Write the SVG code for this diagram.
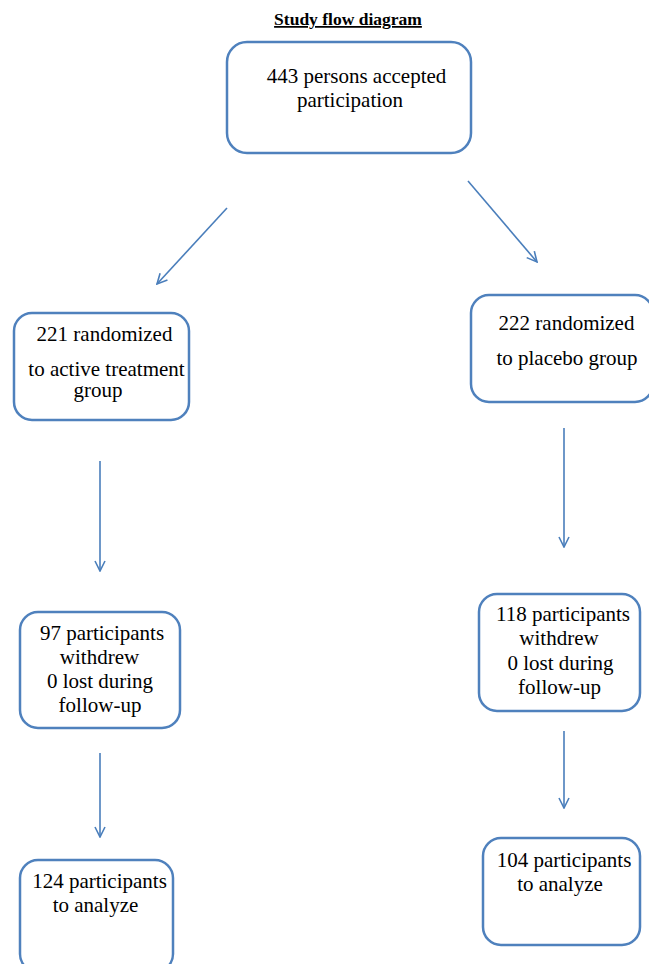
<svg xmlns="http://www.w3.org/2000/svg" width="649" height="964" viewBox="0 0 649 964">
<defs>
<style>
.box{fill:#fff;stroke:#4f81bd;stroke-width:2.5}
.t{font-family:'Liberation Serif','Times New Roman',serif;font-size:21px;fill:#000;text-anchor:middle}
.title{font-family:'Liberation Serif','Times New Roman',serif;font-size:17.5px;font-weight:bold;text-decoration:underline;text-anchor:middle}
.c{stroke:#4a7ebb;stroke-width:1.6;fill:none}
</style>
<marker id="a" viewBox="0 0 12 12" refX="11" refY="6" markerWidth="12" markerHeight="12" markerUnits="userSpaceOnUse" orient="auto">
<path d="M1,1 L11,6 L1,11" fill="none" stroke="#4a7ebb" stroke-width="1.6"/>
</marker>
</defs>
<rect width="649" height="964" fill="#fff"/>
<text class="title" x="348" y="25">Study flow diagram</text>
<g id="connectors">
<line class="c" x1="227" y1="208" x2="157" y2="284" marker-end="url(#a)"/>
<line class="c" x1="468" y1="181" x2="537" y2="262" marker-end="url(#a)"/>
<line class="c" x1="100" y1="461" x2="100" y2="571" marker-end="url(#a)"/>
<line class="c" x1="564" y1="428" x2="564" y2="547" marker-end="url(#a)"/>
<line class="c" x1="100" y1="753" x2="100" y2="837" marker-end="url(#a)"/>
<line class="c" x1="564" y1="731" x2="564" y2="808" marker-end="url(#a)"/>
</g>
<g id="n443">
<rect class="box" x="227" y="42" width="244" height="111" rx="20"/>
<text class="t" x="356.5" y="83">443 persons accepted</text>
<text class="t" x="350" y="107">participation</text>
</g>
<g id="n221">
<rect class="box" x="14" y="313" width="175" height="107" rx="18"/>
<text class="t" x="104.5" y="341">221 randomized</text>
<text class="t" x="106.5" y="376">to active treatment</text>
<text class="t" x="98" y="397">group</text>
</g>
<g id="n222">
<rect class="box" x="471" y="295" width="182" height="107" rx="18"/>
<text class="t" x="566.5" y="330">222 randomized</text>
<text class="t" x="567" y="365">to placebo group</text>
</g>
<g id="n97">
<rect class="box" x="20" y="612" width="160" height="116" rx="18"/>
<text class="t" x="102" y="640">97 participants</text>
<text class="t" x="99.5" y="664">withdrew</text>
<text class="t" x="100" y="688">0 lost during</text>
<text class="t" x="100" y="712">follow-up</text>
</g>
<g id="n118">
<rect class="box" x="479" y="594" width="161" height="117" rx="18"/>
<text class="t" x="563" y="621">118 participants</text>
<text class="t" x="559" y="645">withdrew</text>
<text class="t" x="560.5" y="670">0 lost during</text>
<text class="t" x="559.5" y="694">follow-up</text>
</g>
<g id="n124">
<rect class="box" x="20" y="860" width="153" height="112" rx="18"/>
<text class="t" x="99.5" y="888">124 participants</text>
<text class="t" x="95.5" y="912">to analyze</text>
</g>
<g id="n104">
<rect class="box" x="483" y="838" width="157" height="107" rx="18"/>
<text class="t" x="564" y="867">104 participants</text>
<text class="t" x="560" y="891">to analyze</text>
</g>
</svg>
